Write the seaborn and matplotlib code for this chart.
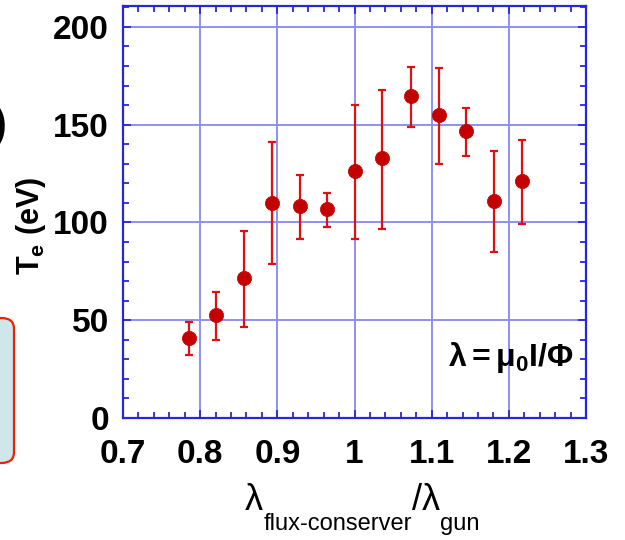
import matplotlib
matplotlib.use("Agg")
import matplotlib.pyplot as plt
from matplotlib.patches import FancyBboxPatch
from matplotlib.ticker import MultipleLocator, FixedLocator
import numpy as np
import pandas as pd
import seaborn as sns

# ---- data ----
lam_ratio = [0.785, 0.821, 0.857, 0.893, 0.929, 0.965, 1.001, 1.036, 1.073, 1.109, 1.144, 1.181, 1.217]
te_ev     = [40.8, 52.7, 71.5, 110.1, 108.4, 106.7, 126.2, 132.8, 164.7, 154.8, 146.6, 111.2, 121.1]
err_top   = [48.9, 64.5, 95.8, 141.3, 124.5, 115.2, 160.1, 167.8, 179.7, 179.2, 158.4, 136.7, 142.2]
err_bot   = [32.2, 39.9, 46.7, 78.6, 91.6, 97.9, 91.7, 96.7, 149.0, 129.9, 134.0, 84.9, 99.0]
x_ticks = [0.7, 0.8, 0.9, 1.0, 1.1, 1.2, 1.3]
x_tick_labels = ["0.7", "0.8", "0.9", "1", "1.1", "1.2", "1.3"]
y_ticks = [0, 50, 100, 150, 200]

df = pd.DataFrame({"lam": lam_ratio, "te": te_ev, "hi": err_top, "lo": err_bot})

sns.set_theme(style="white")
plt.rcParams["font.family"] = ["Liberation Sans", "DejaVu Sans"]
plt.rcParams["mathtext.fontset"] = "custom"
plt.rcParams["mathtext.rm"] = "Liberation Sans"
plt.rcParams["mathtext.bf"] = "Liberation Sans:bold"
plt.rcParams["mathtext.it"] = "Liberation Sans:italic"

fig = plt.figure(figsize=(6.25, 5.4), dpi=100)
fig.patch.set_facecolor("white")
ax = fig.add_axes([123 / 625, (540 - 418) / 540, (586 - 123) / 625, (418 - 6) / 540])

blue = "#2626DC"
grid_blue = "#8F8FEF"

# error bars
ax.errorbar(df["lam"], df["te"],
            yerr=[df["te"] - df["lo"], df["hi"] - df["te"]],
            fmt="none", ecolor="#E01010", elinewidth=1.6, capsize=3.2, capthick=1.6, zorder=3)
# markers
sns.scatterplot(data=df, x="lam", y="te", ax=ax, s=105, color="#C40000",
                edgecolor="#C40000", linewidth=0.5, zorder=4, legend=False)

ax.set_xlim(0.7, 1.3)
ax.set_ylim(0, 210.7)
ax.xaxis.set_major_locator(FixedLocator(x_ticks))
ax.set_xticklabels(x_tick_labels)
ax.xaxis.set_minor_locator(MultipleLocator(0.02))
ax.yaxis.set_major_locator(FixedLocator(y_ticks))
ax.yaxis.set_minor_locator(MultipleLocator(10))

ax.grid(True, which="major", color=grid_blue, linewidth=1.4)
ax.set_axisbelow(True)
for sp in ax.spines.values():
    sp.set_color(blue)
    sp.set_linewidth(1.6)
    sp.set_visible(True)

ax.tick_params(which="both", direction="in", top=True, right=True, bottom=True, left=True,
               color=blue, width=1.3)
ax.tick_params(which="major", length=5.5)
ax.tick_params(which="minor", length=4)
ax.tick_params(axis="x", which="major", labelsize=24, pad=15)
ax.tick_params(axis="y", which="major", labelsize=24, pad=10)
for lab in ax.get_xticklabels() + ax.get_yticklabels():
    lab.set_fontweight("bold")
    lab.set_color("black")

ax.set_xlabel("")
ax.set_ylabel("")

# y label: T_e (eV)
fig.text(31 / 625, 1 - 226 / 540, r"$\mathbf{T_{e}}$" + " " + r"$\mathbf{(eV)}$",
         rotation=90, ha="center", va="center", fontsize=22, color="black")

# x label: λ_flux-conserver / λ_gun
t1 = fig.text(245 / 625, 1 - 510 / 540, "λ", fontsize=26, ha="left", va="baseline", color="black")
t2 = ax.annotate("flux-conserver", xy=(1, 0), xycoords=t1, xytext=(0, -12), textcoords="offset points",
                 fontsize=17, ha="left", va="bottom", color="black")
t3 = ax.annotate("/λ", xy=(1, 0), xycoords=t2, xytext=(0, 12), textcoords="offset points",
                 fontsize=26, ha="left", va="bottom", color="black")
t4 = ax.annotate("gun", xy=(1, 0), xycoords=t3, xytext=(0, -12), textcoords="offset points",
                 fontsize=17, ha="left", va="bottom", color="black")

# annotation inside the plot
ax.text(1.203, 31, r"$\mathbf{λ{=}μ_{0}I/Φ}$", fontsize=23, ha="center", va="center",
        color="black")

# cropped slide remnants on the left edge
box = FancyBboxPatch((-40 / 625, 1 - 463 / 540), 54 / 625, 145 / 540,
                     boxstyle="round,pad=0,rounding_size=0.02", transform=fig.transFigure,
                     facecolor="#CFE6EA", edgecolor="#F02000", linewidth=1.6, clip_on=False)
fig.patches.append(box)
fig.text(7 / 625, 1 - 126 / 540, ")", fontsize=30, fontweight="bold", ha="right", va="center",
         color="black")

fig.savefig("out.png", dpi=100, facecolor="white")
